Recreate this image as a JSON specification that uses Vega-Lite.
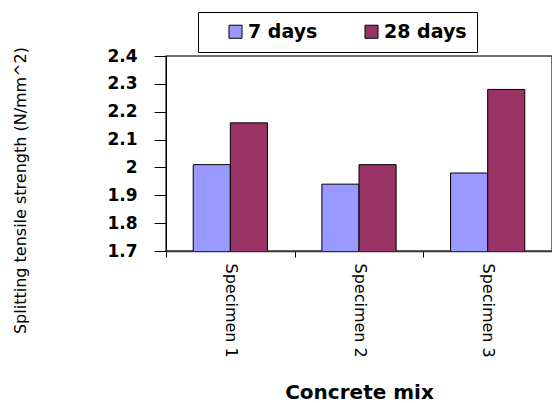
{
  "$schema": "https://vega.github.io/schema/vega-lite/v6.json",
  "width": 386,
  "height": 195,
  "autosize": "none",
  "padding": {"left": 166, "top": 56, "right": 0, "bottom": 152},
  "background": "white",
  "data": {
    "values": [
      {"mix": "Specimen 1", "age": "7 days", "strength": 2.01},
      {"mix": "Specimen 1", "age": "28 days", "strength": 2.16},
      {"mix": "Specimen 2", "age": "7 days", "strength": 1.94},
      {"mix": "Specimen 2", "age": "28 days", "strength": 2.01},
      {"mix": "Specimen 3", "age": "7 days", "strength": 1.98},
      {"mix": "Specimen 3", "age": "28 days", "strength": 2.28}
    ]
  },
  "mark": {"type": "bar", "stroke": "#000000", "strokeWidth": 1, "clip": true},
  "encoding": {
    "x": {
      "field": "mix",
      "type": "nominal",
      "scale": {"paddingInner": 0, "paddingOuter": 0},
      "axis": {
        "title": "Concrete mix",
        "titleFont": "DejaVu Sans",
        "titleFontWeight": "bold",
        "titleFontSize": 20,
        "titleColor": "#000000",
        "titleBaseline": "middle",
        "titleY": 141,
        "labelAngle": 90,
        "labelAlign": "left",
        "labelBaseline": "middle",
        "labelFont": "DejaVu Sans",
        "labelFontSize": 16,
        "labelColor": "#000000",
        "labelPadding": 6,
        "tickBand": "extent",
        "tickSize": 6,
        "tickColor": "#000000",
        "domainColor": "#333333",
        "domainWidth": 1.5
      }
    },
    "xOffset": {
      "field": "age",
      "sort": ["7 days", "28 days"],
      "scale": {"paddingInner": 0, "paddingOuter": 0.733}
    },
    "y": {
      "field": "strength",
      "type": "quantitative",
      "scale": {"domain": [1.7, 2.4], "nice": false, "zero": false},
      "axis": {
        "title": "Splitting tensile strength (N/mm^2)",
        "titleFont": "DejaVu Sans",
        "titleFontWeight": "normal",
        "titleFontSize": 16,
        "titleColor": "#000000",
        "titleAngle": -90,
        "titleAlign": "center",
        "titleBaseline": "middle",
        "titleX": -146,
        "titleY": 134,
        "values": [1.7, 1.8, 1.9, 2.0, 2.1, 2.2, 2.3, 2.4],
        "format": ".2~g",
        "labelFont": "DejaVu Sans",
        "labelFontWeight": "bold",
        "labelFontSize": 17,
        "labelColor": "#000000",
        "labelPadding": 17,
        "tickSize": 12,
        "tickColor": "#000000",
        "domainColor": "#000000",
        "grid": false
      }
    },
    "fill": {
      "field": "age",
      "type": "nominal",
      "sort": ["7 days", "28 days"],
      "scale": {"domain": ["7 days", "28 days"], "range": ["#9999FF", "#993366"]},
      "legend": {
        "title": null,
        "orient": "none",
        "direction": "horizontal",
        "legendX": 32,
        "legendY": -44,
        "fillColor": "white",
        "strokeColor": "#000000",
        "padding": 10,
        "symbolOffset": 18,
        "symbolType": "square",
        "symbolSize": 170,
        "symbolStrokeColor": "#000000",
        "symbolStrokeWidth": 1,
        "labelFont": "DejaVu Sans",
        "labelFontWeight": "bold",
        "labelFontSize": 19,
        "labelColor": "#000000",
        "labelOffset": 3,
        "columnPadding": 26
      }
    }
  },
  "config": {
    "view": {"stroke": "#444444", "strokeWidth": 1.5}
  }
}
